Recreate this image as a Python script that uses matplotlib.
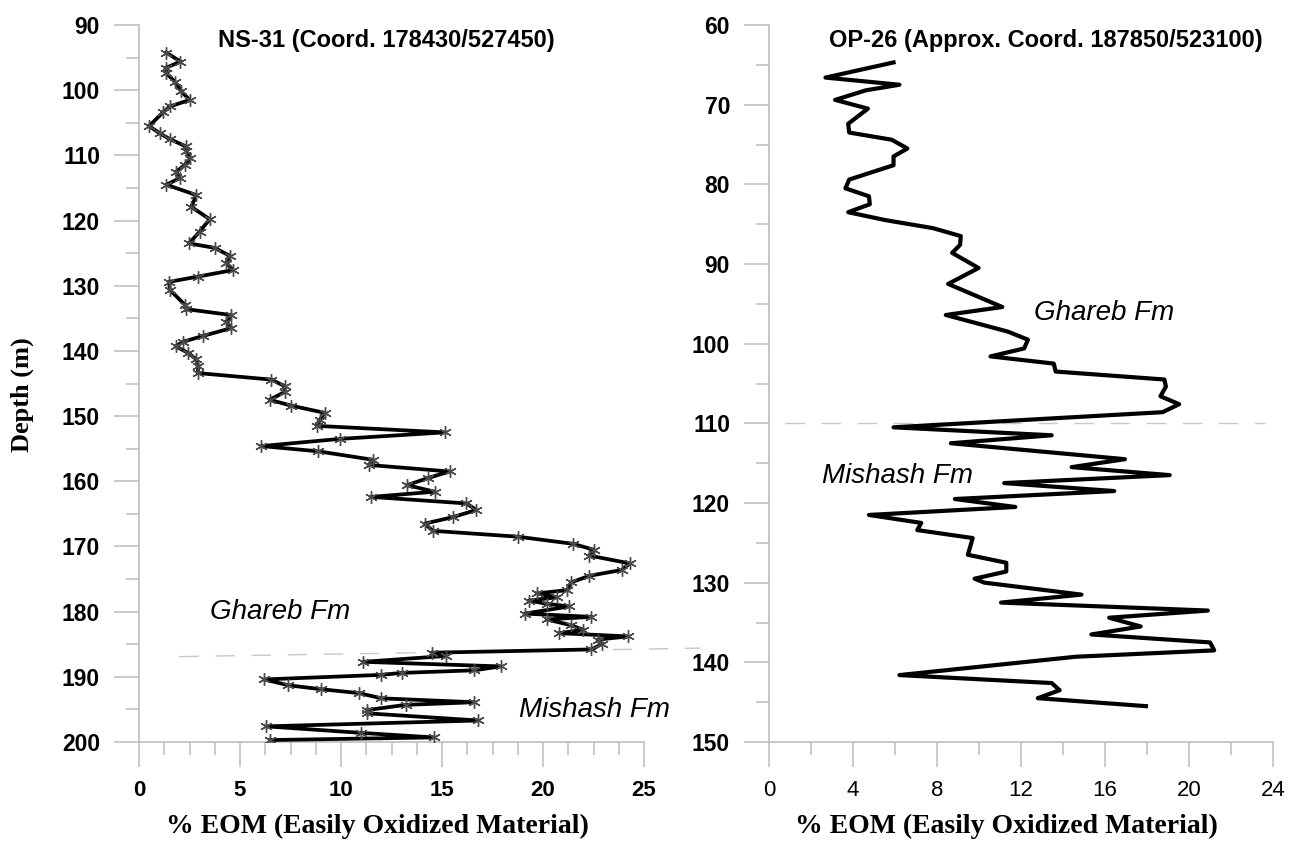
import matplotlib
matplotlib.use('Agg')
import matplotlib.pyplot as plt
from matplotlib.ticker import MultipleLocator

# NS-31 profile (depth in m, % EOM)
ns_depth = [94.25, 95.6, 96.6, 97.4, 98.7, 100.2, 101.5, 102.5, 103.4, 105.5,
            106.6, 107.5, 108.6, 109.4, 110.4, 111.5, 112.5, 113.5, 114.5, 116.1,
            117.9, 119.8, 121.7, 123.5, 124.2, 125.4, 126.5, 127.6, 128.6, 129.4,
            130.6, 132.9, 133.6, 134.5, 135.5, 136.5, 137.7, 138.6, 139.3, 140.3,
            141.3, 142.3, 143.4, 144.4, 145.4, 146.3, 147.5, 148.4, 149.5, 150.6,
            151.5, 152.5, 153.5, 154.6, 155.4, 156.7, 157.5, 158.5, 159.5, 160.6,
            161.6, 162.4, 163.4, 164.4, 165.5, 166.5, 167.6, 168.5, 169.6, 170.5,
            171.4, 172.6, 173.6, 174.5, 175.5, 176.7, 177.2, 177.8, 178.3, 178.8,
            179.2, 180.3, 180.8, 181.2, 182.1, 182.8, 183.3, 183.8, 184.3, 185.0,
            185.8, 186.3, 186.8, 187.7, 188.4, 189.0, 189.4, 189.7, 190.4, 191.3,
            191.9, 192.5, 193.3, 193.9, 194.3, 195.1, 195.6, 196.7, 197.6, 198.6,
            199.3, 199.7]
ns_eom = [1.36, 2.05, 1.32, 1.36, 1.77, 2.10, 2.51, 1.52, 1.19, 0.50,
          1.02, 1.52, 2.31, 2.35, 2.54, 2.26, 1.85, 2.01, 1.36, 2.84,
          2.59, 3.50, 3.00, 2.48, 3.75, 4.49, 4.33, 4.65, 2.92, 1.49,
          1.52, 2.26, 2.35, 4.57, 4.33, 4.57, 3.17, 2.18, 1.82, 2.43,
          2.84, 2.92, 2.92, 6.55, 7.21, 7.21, 6.47, 7.54, 9.19, 8.95,
          8.81, 15.13, 9.94, 6.06, 8.86, 11.58, 11.39, 15.38, 14.31, 13.27,
          14.64, 11.50, 16.21, 16.70, 15.54, 14.14, 14.55, 18.75, 21.5, 22.5,
          22.3, 24.3, 23.9, 22.3, 21.4, 21.2, 19.7, 20.7, 19.3, 20.2,
          21.3, 19.1, 22.4, 20.2, 21.4, 22.0, 20.8, 24.2, 22.7, 22.9,
          22.4, 14.5, 15.2, 11.1, 17.9, 16.6, 13.0, 12.0, 6.2, 7.4,
          9.0, 10.9, 12.0, 16.6, 13.2, 11.3, 11.3, 16.8, 6.3, 11.0,
          14.6, 6.5]

# OP-26 profile
op_depth = [64.7, 66.6, 67.5, 68.2, 69.4, 70.5, 72.4, 73.5, 74.4, 75.5,
            76.5, 77.6, 79.4, 80.5, 81.5, 82.5, 83.5, 84.5, 85.5, 86.5,
            87.6, 88.6, 90.5, 92.5, 95.4, 96.4, 98.5, 99.5, 100.6, 101.6,
            102.5, 103.5, 104.5, 105.4, 106.6, 107.6, 108.6, 110.5, 111.5, 112.5,
            114.5, 115.5, 116.5, 117.5, 118.5, 119.5, 120.5, 121.5, 122.5, 123.4,
            124.4, 126.5, 127.5, 128.6, 129.5, 130.0, 131.5, 132.5, 133.5, 134.4,
            135.5, 136.5, 137.5, 138.5, 139.3, 141.6, 142.6, 143.5, 144.5, 145.5]
op_eom = [5.93, 2.69, 6.21, 4.61, 3.15, 4.71, 3.77, 3.82, 5.84, 6.59,
          5.93, 5.93, 3.82, 3.64, 4.76, 4.80, 3.77, 5.56, 7.81, 9.13,
          9.10, 8.72, 9.98, 8.53, 11.11, 8.42, 11.39, 12.33, 12.15, 10.55,
          13.56, 13.65, 18.83, 18.90, 18.64, 19.53, 18.74, 5.93, 13.46, 8.66,
          16.95, 14.41, 19.08, 11.20, 16.44, 8.85, 11.73, 4.76, 7.25, 7.06,
          9.70, 9.47, 11.30, 11.30, 9.79, 10.26, 14.88, 11.05, 20.90, 16.20,
          17.70, 15.35, 21.00, 21.20, 14.60, 6.21, 13.46, 13.84, 12.80, 17.95]

# formation boundaries (x, depth)
ns_bound_x = [2.0, 27.8]
ns_bound_y = [186.9, 185.6]
op_bound_x = [0.75, 23.6]
op_bound_y = [110.0, 110.0]

grey = '#bdbdbd'
sans = 'Liberation Sans'
serif = 'Liberation Serif'

fig = plt.figure(figsize=(13.01, 8.41), dpi=100)
ax1 = fig.add_axes([139/1301, 1 - 742/841, 505/1301, 717/841])
ax2 = fig.add_axes([769/1301, 1 - 742/841, 504/1301, 717/841])


def style(ax, xmax, xmaj, xmin, ytop, ybot, xbold):
    ax.set_xlim(0, xmax)
    ax.set_ylim(ybot, ytop)
    ax.spines['top'].set_visible(False)
    ax.spines['right'].set_visible(False)
    for s in ['left', 'bottom']:
        ax.spines[s].set_color(grey)
        ax.spines[s].set_linewidth(1.2)
    ax.xaxis.set_major_locator(MultipleLocator(xmaj))
    ax.xaxis.set_minor_locator(MultipleLocator(xmin))
    ax.yaxis.set_major_locator(MultipleLocator(10))
    ax.yaxis.set_minor_locator(MultipleLocator(5))
    ax.tick_params(which='major', length=18, width=1.1, color=grey)
    ax.tick_params(which='minor', length=9.5, width=1.1, color=grey)
    ax.tick_params(axis='y', pad=10)
    ax.tick_params(axis='x', pad=9)
    for lab in ax.get_yticklabels():
        lab.set_fontfamily(sans)
        lab.set_fontweight('bold')
        lab.set_fontsize(16.5)
    for lab in ax.get_xticklabels():
        lab.set_fontfamily(sans)
        lab.set_fontweight('bold' if xbold else 'normal')
        lab.set_fontsize(16)


# left panel
ax1.plot(ns_eom, ns_depth, color='black', lw=2.7, marker=(6, 2, 0),
         markersize=9, markeredgecolor='#4a4a4a', markeredgewidth=1.0, zorder=3)
ax1.plot(ns_bound_x, ns_bound_y, color='#c8c8c8', lw=1.0, ls=(0, (14, 12)), clip_on=False)
style(ax1, 25, 5, 1.25, 90, 200, True)
ax1.text(0.156, 0.979, 'NS-31 (Coord. 178430/527450)', transform=ax1.transAxes,
         ha='left', va='center', fontsize=17, fontweight='bold', family=sans)
ax1.text(3.5, 180.0, 'Ghareb Fm', ha='left', va='center', fontsize=20,
         style='italic', family=sans)
ax1.text(18.8, 195.1, 'Mishash Fm', ha='left', va='center', fontsize=20,
         style='italic', family=sans)

# right panel
ax2.plot(op_eom, op_depth, color='black', lw=3.0, zorder=3)
ax2.plot(op_bound_x, op_bound_y, color='#c8c8c8', lw=1.0, ls=(0, (14, 12)), clip_on=False)
style(ax2, 24, 4, 2, 60, 150, False)
ax2.text(0.119, 0.979, 'OP-26 (Approx. Coord. 187850/523100)', transform=ax2.transAxes,
         ha='left', va='center', fontsize=17, fontweight='bold', family=sans)
ax2.text(12.6, 96.2, 'Ghareb Fm', ha='left', va='center', fontsize=20,
         style='italic', family=sans)
ax2.text(2.5, 116.6, 'Mishash Fm', ha='left', va='center', fontsize=20,
         style='italic', family=sans)

# axis titles
fig.text(377/1301, 1 - 826/841, '% EOM (Easily Oxidized Material)', ha='center', va='center',
         fontsize=20, fontweight='bold', family=serif)
fig.text(1006/1301, 1 - 826/841, '% EOM (Easily Oxidized Material)', ha='center', va='center',
         fontsize=20, fontweight='bold', family=serif)
fig.text(22/1301, 1 - 395/841, 'Depth (m)', ha='center', va='center', rotation=90,
         fontsize=19, fontweight='bold', family=serif)

fig.savefig('out.png', dpi=100)
